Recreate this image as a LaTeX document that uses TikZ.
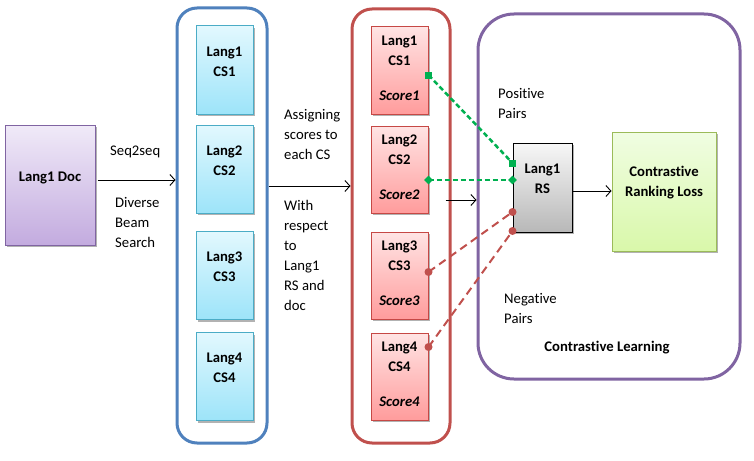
\documentclass[tikz,border=0pt]{standalone}
\usepackage{fontspec}
\setmainfont{Carlito}[Ligatures=NoCommon]
\usetikzlibrary{arrows.meta,shapes.geometric,shadows,calc}
\definecolor{blueC}{HTML}{4F81BD}
\definecolor{redC}{HTML}{C0504D}
\definecolor{purpC}{HTML}{8064A2}
\definecolor{cyanB}{HTML}{4BACC6}
\definecolor{greenB}{HTML}{9BBB59}
\definecolor{gdash}{HTML}{00B050}
\definecolor{rdash}{HTML}{C0504D}
\definecolor{docT}{HTML}{F0EAF8}
\definecolor{docB}{HTML}{C3ABDF}
\definecolor{cyT}{HTML}{E2F8FE}
\definecolor{cyB}{HTML}{9DE4F9}
\definecolor{rdT}{HTML}{FFE4E4}
\definecolor{rdB}{HTML}{FF9C9C}
\definecolor{grT}{HTML}{F0FDE2}
\definecolor{grB}{HTML}{D9F8AA}
\definecolor{gyT}{HTML}{F7F7F7}
\definecolor{gyB}{HTML}{B8B8B8}
\begin{document}
\begin{tikzpicture}[x=1pt,y=-1pt,
  every node/.style={font=\fontsize{14.7}{20}\selectfont},
  shd/.style={drop shadow={shadow xshift=1.5pt,shadow yshift=-2pt,opacity=0.3,fill=black}},
  box/.style={rectangle,draw,line width=1pt,inner sep=0pt,shd},
  cont/.style={rectangle,draw,line width=3pt,inner sep=0pt},
  txt/.style={inner sep=0pt,align=left},
  btxt/.style={inner sep=0pt,align=center,font=\fontsize{14.7}{20}\selectfont\bfseries},
  arr/.style={-{Straight Barb[length=5pt,width=11pt]},line width=0.9pt},
  gline/.style={draw=gdash,line width=2.5pt,dash pattern=on 5pt off 3pt},
  rline/.style={draw=rdash,line width=2pt,dash pattern=on 8pt off 5pt},
  gsq/.style={rectangle,fill=gdash,minimum size=7pt,inner sep=0pt},
  gdia/.style={diamond,fill=gdash,minimum size=9pt,inner sep=0pt},
  rdot/.style={circle,fill=rdash,minimum size=8pt,inner sep=0pt}]
\useasboundingbox (0,0) rectangle (754,460);

% containers
\node[cont,draw=blueC,rounded corners=20pt,minimum width=90pt,minimum height=435pt] (blue) at (222,225.5) {};
\node[cont,draw=redC,rounded corners=20pt,minimum width=98pt,minimum height=434pt] (red) at (401,226) {};
\node[cont,draw=purpC,rounded corners=36pt,minimum width=262pt,minimum height=365pt] (purp) at (609,196.5) {};

% doc
\node[box,draw=purpC,top color=docT,bottom color=docB,minimum width=90pt,minimum height=120pt] (doc) at (50,185) {};
\node[btxt] (doct) at (50,178) {Lang1 Doc};

% cyan boxes
\foreach \i/\cy in {1/70,2/169,3/275.5,4/376.5}{
  \node[box,draw=cyanB,top color=cyT,bottom color=cyB,minimum width=57pt,minimum height=88pt] (c\i) at (224.5,\cy) {};
  \node[btxt] (ct\i) at ([yshift=-36pt]c\i.north) {Lang\i\\CS\i};
}
% red boxes
\foreach \i/\cy in {1/70.5,2/169.5,3/275.5,4/376.5}{
  \node[box,draw=redC!90!red,top color=rdT,bottom color=rdB,minimum width=57pt,minimum height=87pt] (r\i) at (399.5,\cy) {};
  \node[btxt] (rt\i) at ([yshift=-24pt]r\i.north) {Lang\i\\CS\i};
  \node[btxt,font=\fontsize{14.7}{20}\selectfont\bfseries\itshape] (rs\i) at ([yshift=-69pt]r\i.north) {Score\i};
}

% RS and loss
\node[box,draw=black,top color=gyT,bottom color=gyB,minimum width=59pt,minimum height=89pt] (rs) at (542.5,187.5) {};
\node[btxt] (rst) at ([yshift=-36pt]rs.north) {Lang1\\RS};
\node[box,draw=greenB,top color=grT,bottom color=grB,minimum width=104pt,minimum height=119pt] (crl) at (664,191.5) {};
\node[btxt] (crlt) at (664,183) {Contrastive\\Ranking Loss};

% texts
\node[txt,anchor=west] (t1) at (110,152) {Seq2seq};
\node[txt,anchor=west] (t2) at (115,222) {Diverse\\Beam\\Search};
\node[txt,anchor=west] (t3) at (284,134) {Assigning\\scores to\\each CS};
\node[txt,anchor=west] (t4) at (284,255) {With\\respect\\to\\Lang1\\RS and\\doc};
\node[txt,anchor=west] (t5) at (498,103) {Positive\\Pairs};
\node[txt,anchor=west] (t6) at (504,308) {Negative\\Pairs};
\node[btxt] (t7) at (607,348) {Contrastive Learning};

% arrows
\coordinate (a1) at ([xshift=2pt,yshift=5pt]doc.east);
\draw[arr] (a1) -- (a1 -| blue.west);
\coordinate (a2) at ([yshift=39.5pt]blue.east);
\draw[arr] (a2) -- (a2 -| red.west);
\coordinate (a3) at ([xshift=-6pt,yshift=26pt]red.east);
\draw[arr] (a3) -- (a3 -| purp.west);
\draw[arr] (rs.east |- 0,191) -- (crl.west |- 0,191);

% pair connectors
\coordinate (g1a) at ([yshift=-4.5pt]r1.east);
\coordinate (g1b) at ([yshift=24.5pt]rs.west);
\coordinate (g2a) at ([yshift=-10.5pt]r2.east);
\coordinate (g2b) at ([yshift=7.5pt]rs.west);
\coordinate (n1a) at ([yshift=3.5pt]r3.east);
\coordinate (n1b) at ([yshift=-24.5pt]rs.west);
\coordinate (n2a) at ([yshift=29.5pt]r4.east);
\coordinate (n2b) at ([yshift=-43.5pt]rs.west);
\draw[gline] (g1a) -- (g1b);
\draw[gline] (g2a) -- (g2b);
\draw[rline] (n1a) -- (n1b);
\draw[rline] (n2a) -- (n2b);
\node[gsq] at (g1a) {};
\node[gsq] at (g1b) {};
\node[gdia] at (g2a) {};
\node[gdia] at (g2b) {};
\node[rdot] at (n1a) {};
\node[rdot] at (n1b) {};
\node[rdot] at (n2a) {};
\node[rdot] at (n2b) {};
\end{tikzpicture}
\end{document}
